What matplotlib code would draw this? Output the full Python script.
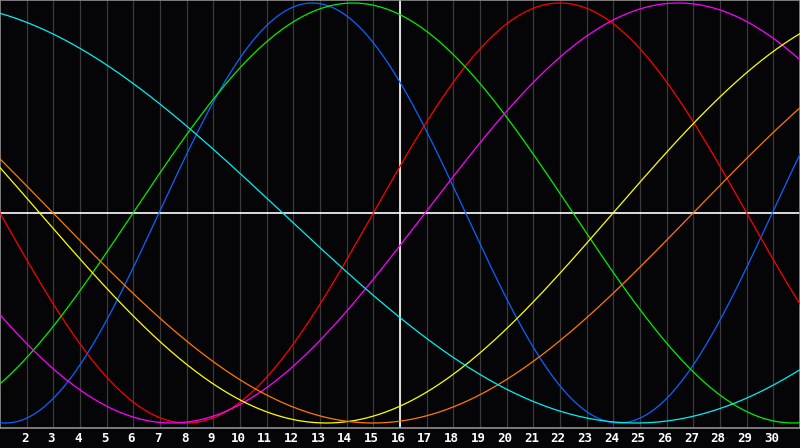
import numpy as np
import matplotlib
matplotlib.use("Agg")
import matplotlib.pyplot as plt
import matplotlib.transforms as mtransforms

# Biorhythm-style cycles: period (days) and the chart day of the upward zero crossing
names = ["physical", "emotional", "intellectual", "intuitive", "aesthetic", "awareness", "spiritual"]
periods = [23, 28, 33, 38, 43, 48, 53]
zero_days = [6.96, 15.0, 5.99, 16.94, 23.99, 26.99, -14.9]
colors = ["#0a64ff", "#ff0000", "#00f000", "#ff00ff", "#ffff00", "#ff7a00", "#00f0f0"]

day_start, day_end = 1, 31
tick_days = list(range(2, 31))
today = 16

fig = plt.figure(figsize=(8, 4.48), dpi=100, facecolor="#050508")
ax = fig.add_axes([0, 20 / 448, 1, 428 / 448])
ax.set_facecolor("#050508")

d = np.linspace(day_start, day_end, 3000)
for p, z, c in zip(periods, zero_days, colors):
    ax.plot(d, np.sin(2 * np.pi * (d - z) / p), color=c, lw=0.9, zorder=3)

for t in tick_days:
    ax.axvline(t, color="#3a3a3a", lw=0.9, zorder=1)
ax.axhline(0, color="white", lw=1.2, zorder=2)
ax.axvline(today, color="white", lw=1.2, zorder=2)

ax.set_xlim(day_start, day_end)
ax.set_ylim(-(428 - 213) / 210, 213 / 210)
ax.set_xticks(tick_days)
ax.set_xticklabels([str(t) for t in tick_days], color="white",
                   fontfamily="DejaVu Sans Mono", fontweight="bold", fontsize=9)
ax.tick_params(axis="x", length=0, pad=3)
shift = mtransforms.ScaledTranslation(-2 / 100, 0, fig.dpi_scale_trans)
for lbl in ax.get_xticklabels():
    lbl.set_transform(lbl.get_transform() + shift)
ax.set_yticks([])
for s in ax.spines.values():
    s.set_color("#909090")
    s.set_linewidth(1.2)

fig.savefig("out.png", dpi=100, facecolor=fig.get_facecolor())
